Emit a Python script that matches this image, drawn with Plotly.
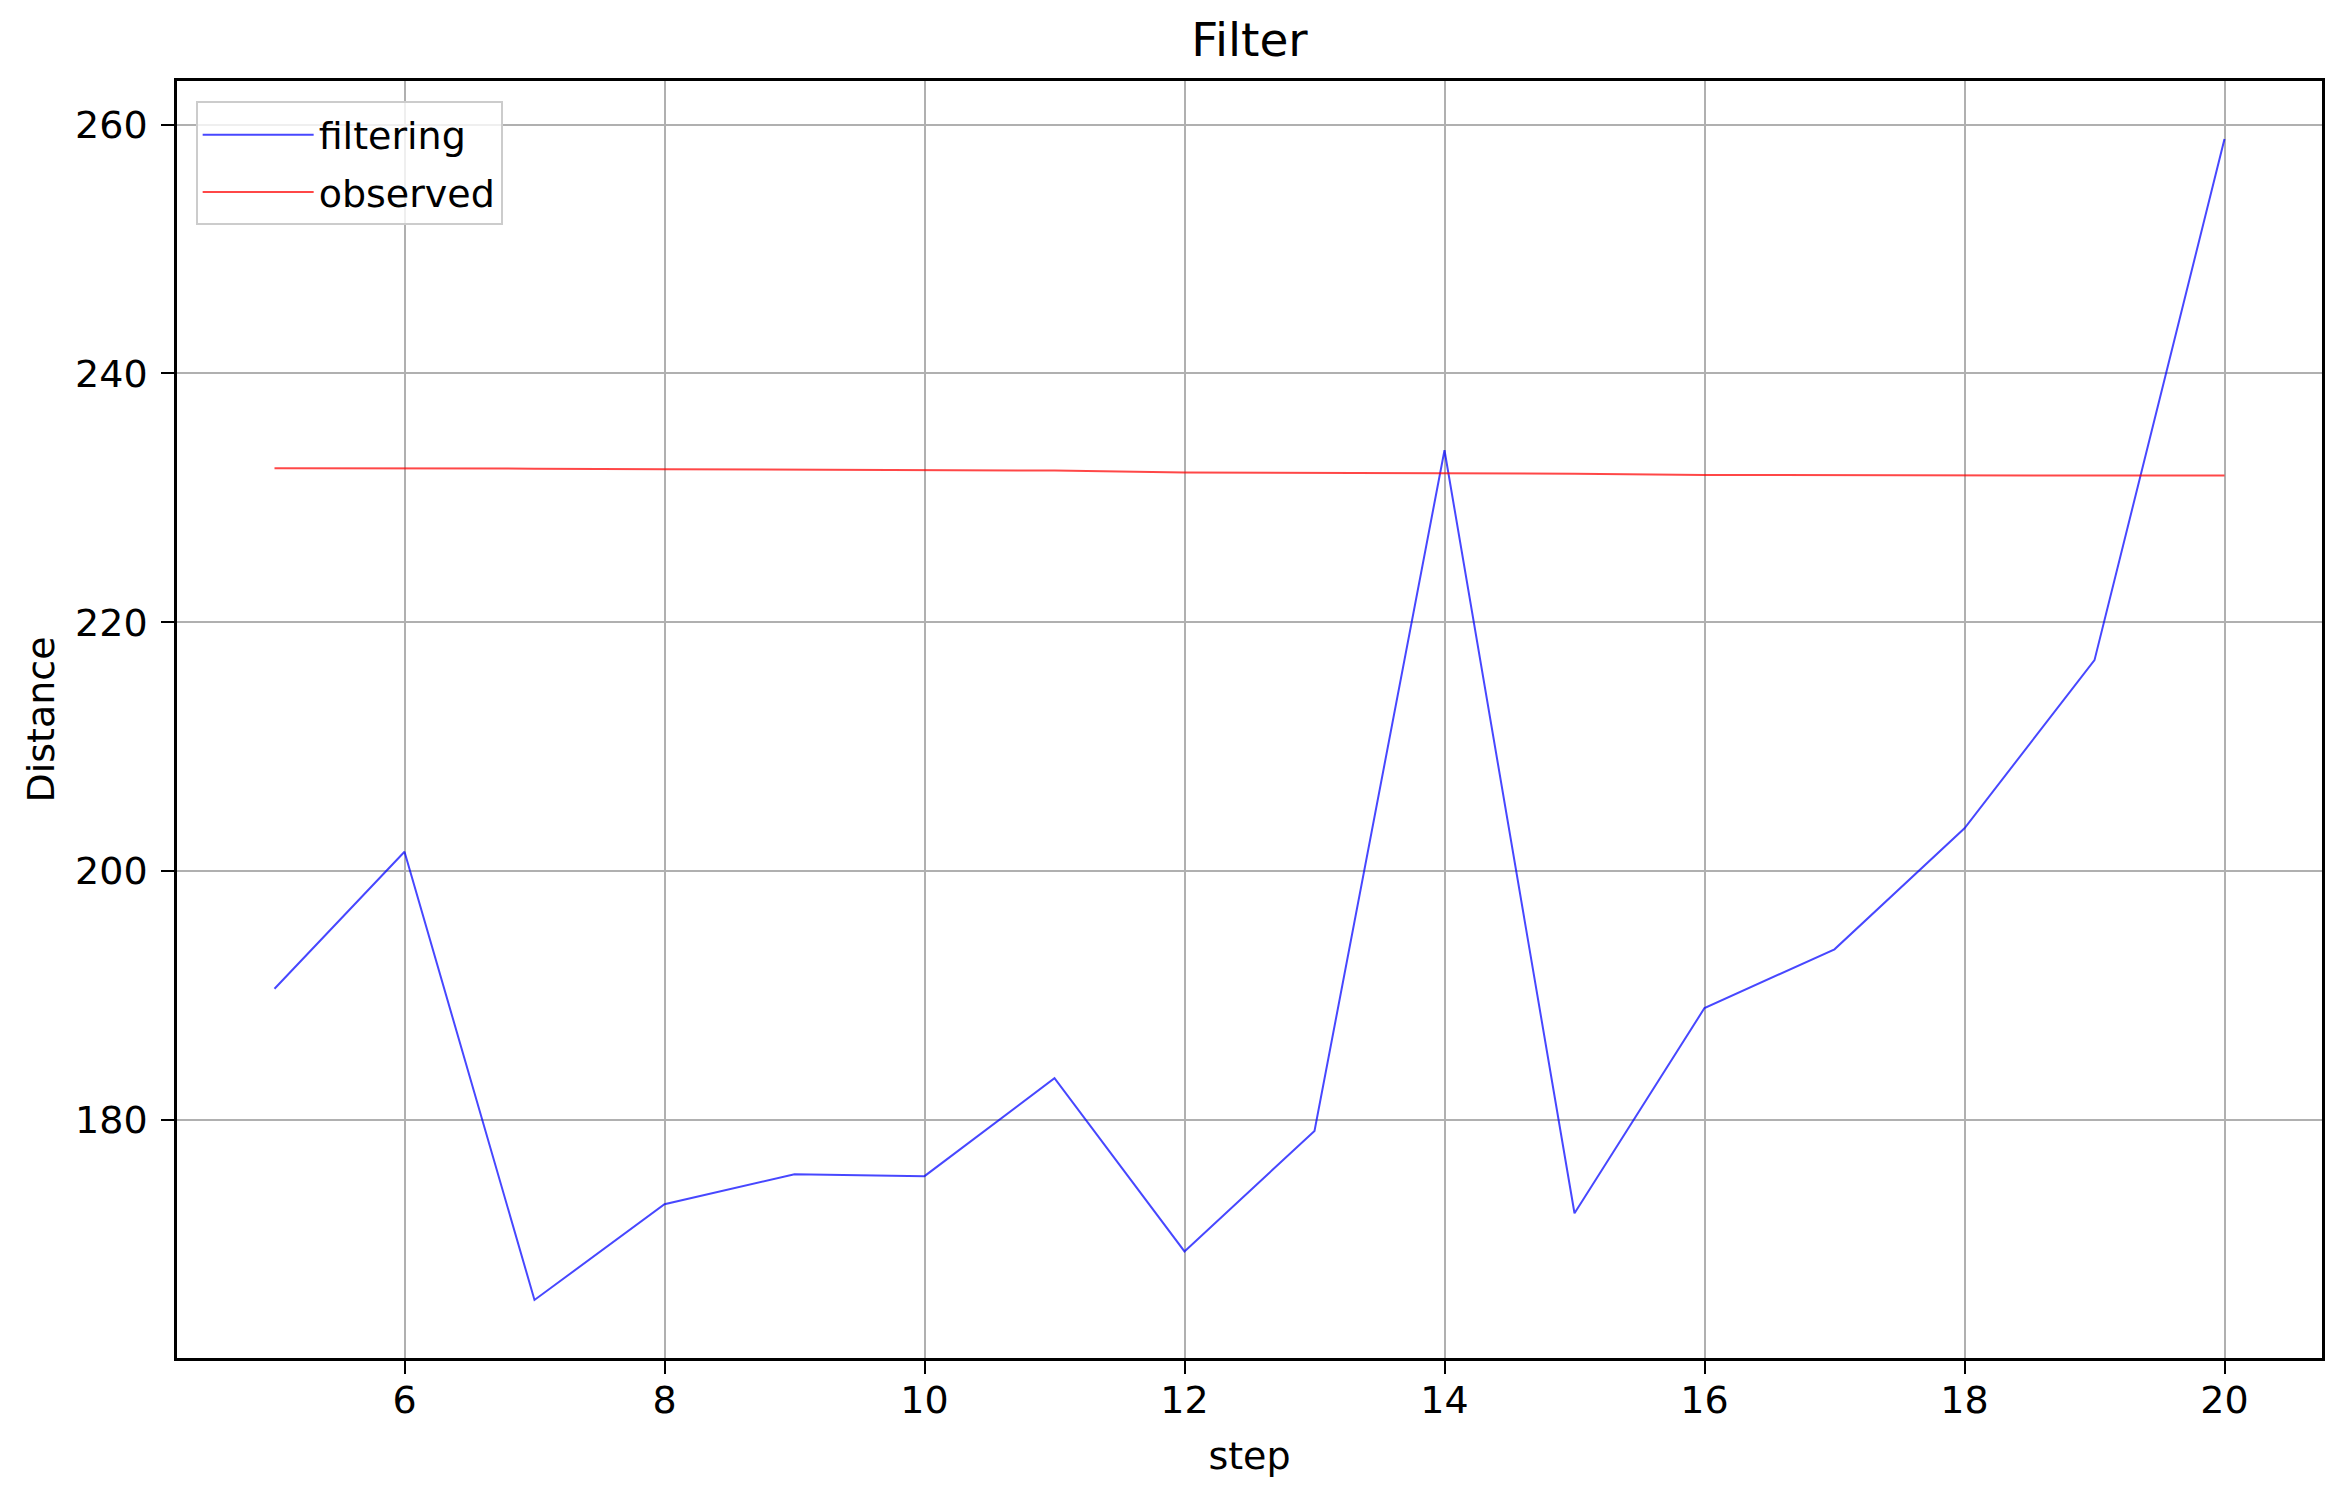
import plotly.graph_objects as go

steps = list(range(5, 21))
filtering = [190.55, 201.56, 165.54, 173.23, 175.64, 175.49, 183.37, 169.44,
             179.12, 233.83, 172.51, 189.0, 193.72, 203.45, 216.96, 258.84]
observed = [232.38, 232.38, 232.35, 232.30, 232.27, 232.25, 232.20, 232.05,
            232.03, 232.02, 231.95, 231.85, 231.82, 231.80, 231.80, 231.80]

x_ticks = [6, 8, 10, 12, 14, 16, 18, 20]
y_ticks = [180, 200, 220, 240, 260]

FONT = "DejaVu Sans"
W, H = 2341, 1484  # page body adds 8px offset

fig = go.Figure()
fig.add_trace(go.Scatter(x=steps, y=filtering, mode="lines", name="filtering",
                         line=dict(color="rgba(0,0,255,0.72)", width=2),
                         legendgroup="a"))
fig.add_trace(go.Scatter(x=steps, y=observed, mode="lines", name="observed",
                         line=dict(color="rgba(255,0,0,0.72)", width=2),
                         legendgroup="b"))

axis_common = dict(
    showline=True, linecolor="black", linewidth=2.5, mirror=True,
    showgrid=True, gridcolor="#b0b0b0", gridwidth=2,
    ticks="outside", ticklen=13, tickwidth=2.3, tickcolor="black",
    tickfont=dict(family=FONT, size=38, color="black"),
    zeroline=False, automargin=False,
)

fig.update_layout(
    width=W, height=H,
    margin=dict(l=169, r=27, t=73, b=134),
    paper_bgcolor="white", plot_bgcolor="white",
    title=dict(text="Filter", x=0.5, xref="paper", xanchor="center",
               y=1 - 32 / H, yref="container", yanchor="middle",
               font=dict(family=FONT, size=47, color="black")),
    xaxis=dict(range=[4.25, 20.75], tickvals=x_ticks,
               ticklabelstandoff=-6,
               title=dict(text="step", standoff=22,
                          font=dict(family=FONT, size=38, color="black")),
               **axis_common),
    yaxis=dict(range=[160.875, 263.505], tickvals=y_ticks,
               ticklabelstandoff=6,
               title=dict(text="Distance", standoff=9,
                          font=dict(family=FONT, size=38, color="black")),
               **axis_common),
    legend=dict(x=0.0087, y=0.984, xanchor="left", yanchor="top",
                bgcolor="rgba(255,255,255,0.8)", bordercolor="#cccccc",
                borderwidth=2, tracegroupgap=5, traceorder="grouped",
                itemwidth=111,
                font=dict(family=FONT, size=38, color="black")),
    showlegend=True,
)

fig.write_html("out.html")
